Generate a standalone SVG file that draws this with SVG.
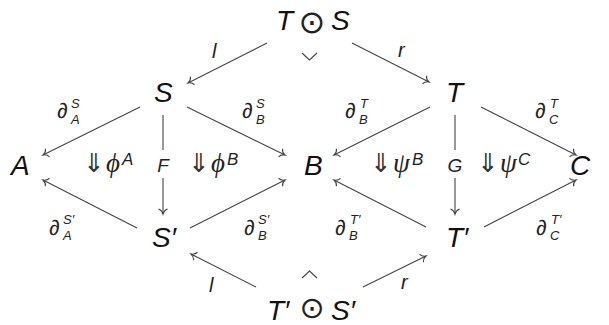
<svg xmlns="http://www.w3.org/2000/svg" width="609" height="325" viewBox="0 0 609 325">
<defs>
<style>
.n{font-family:"Liberation Sans","DejaVu Sans",sans-serif;font-style:italic;font-size:28px;fill:#111}
.op{font-family:"DejaVu Sans",sans-serif;font-style:normal;font-size:32px;fill:#222}
.op2{font-family:"DejaVu Sans",sans-serif;font-style:normal;font-size:30px;fill:#222}
.d{font-family:"Liberation Sans","DejaVu Sans",sans-serif;font-style:italic;font-size:21px;fill:#222}
.s{font-family:"Liberation Sans","DejaVu Sans",sans-serif;font-style:italic;font-size:13px;fill:#222}
.lb{font-family:"Liberation Sans","DejaVu Sans",sans-serif;font-style:italic;font-size:20px;fill:#222}
.fg{font-family:"Liberation Sans","DejaVu Sans",sans-serif;font-style:italic;font-size:19px;fill:#222;text-anchor:middle}
.dbl{font-family:"DejaVu Sans",sans-serif;font-size:26px;fill:#333}
.gr{font-family:"Liberation Serif","DejaVu Serif",serif;font-style:italic;font-size:27px;fill:#222}
.sup{font-family:"Liberation Sans","DejaVu Sans",sans-serif;font-style:italic;font-size:17px;fill:#222}
.e{stroke:#444;stroke-width:1.1;fill:none}
.a{marker-end:url(#tip)}
</style>
<marker id="tip" markerUnits="userSpaceOnUse" markerWidth="12" markerHeight="12" viewBox="-7 -6 9 12" refX="0" refY="0" orient="auto">
<path d="M -5,-4.5 C -4,-1.5 -1.5,-0.4 0,0 C -1.5,0.4 -4,1.5 -5,4.5" stroke="#444" stroke-width="1.1" fill="none"/>
</marker>
</defs>
<g id="edges">
<path class="e a" d="M267,43 L188,83"/>
<path class="e a" d="M352,43 L429,82"/>
<path class="e a" d="M140,107 L43,155"/>
<path class="e a" d="M187,107 L285,155"/>
<path class="e" d="M163,115 L163,150"/>
<path class="e a" d="M163,178 L163,214"/>
<path class="e a" d="M137,228 L43,180"/>
<path class="e a" d="M190,228 L285,180"/>
<path class="e a" d="M256,287 L191,254"/>
<path class="e a" d="M363,287 L426,256"/>
<path class="e a" d="M430,107 L334,155"/>
<path class="e a" d="M481,107 L576,155"/>
<path class="e" d="M455,115 L455,150"/>
<path class="e a" d="M455,178 L455,214"/>
<path class="e a" d="M426,227 L334,180"/>
<path class="e a" d="M484,227 L576,180"/>
<path class="e" d="M302,53 L309.5,60 L317,53"/>
<path class="e" d="M302,278 L309.5,271 L317,278"/>
<text class="lb" x="212" y="58">l</text>
<text class="lb" x="398" y="57">r</text>
<text class="lb" x="209" y="292">l</text>
<text class="lb" x="401" y="289">r</text>
<text class="fg" x="163" y="172">F</text>
<text class="fg" x="455" y="172">G</text>
<g><text class="d" x="57" y="118">∂</text><text class="s" x="71" y="108">S</text><text class="s" x="71" y="124">A</text></g>
<g><text class="d" x="242" y="118">∂</text><text class="s" x="256" y="108">S</text><text class="s" x="256" y="124">B</text></g>
<g><text class="d" x="345" y="118">∂</text><text class="s" x="360" y="108">T</text><text class="s" x="359" y="124">B</text></g>
<g><text class="d" x="535" y="118">∂</text><text class="s" x="550" y="108">T</text><text class="s" x="549" y="124">C</text></g>
<g><text class="d" x="49" y="235">∂</text><text class="s" x="63" y="224">S′</text><text class="s" x="63" y="240">A</text></g>
<g><text class="d" x="244" y="235">∂</text><text class="s" x="258" y="224">S′</text><text class="s" x="258" y="240">B</text></g>
<g><text class="d" x="335" y="235">∂</text><text class="s" x="350" y="224">T′</text><text class="s" x="349" y="240">B</text></g>
<g><text class="d" x="536" y="235">∂</text><text class="s" x="551" y="224">T′</text><text class="s" x="550" y="240">C</text></g>
<g><text class="dbl" x="83" y="172">⇓</text><text class="gr" x="106" y="172">ϕ</text><text class="sup" x="122" y="165">A</text></g>
<g><text class="dbl" x="188" y="172">⇓</text><text class="gr" x="211" y="172">ϕ</text><text class="sup" x="227" y="165">B</text></g>
<g><text class="dbl" x="370" y="172">⇓</text><text class="gr" x="393" y="172">ψ</text><text class="sup" x="412" y="165">B</text></g>
<g><text class="dbl" x="477" y="172">⇓</text><text class="gr" x="500" y="172">ψ</text><text class="sup" x="518" y="165">C</text></g>
</g>
<g id="TS"><text class="n" x="276" y="30">T</text><text class="op" x="312" y="33" text-anchor="middle">⊙</text><text class="n" x="331" y="30">S</text></g>
<g id="S"><text class="n" x="154" y="102">S</text></g>
<g id="T"><text class="n" x="446" y="102">T</text></g>
<g id="A"><text class="n" x="11" y="175">A</text></g>
<g id="B"><text class="n" x="304" y="175">B</text></g>
<g id="C"><text class="n" x="570" y="175">C</text></g>
<g id="Sp"><text class="n" x="152" y="247">S′</text></g>
<g id="Tp"><text class="n" x="446" y="247">T′</text></g>
<g id="TSp"><text class="n" x="267" y="320">T′</text><text class="op2" x="312" y="318" text-anchor="middle">⊙</text><text class="n" x="331" y="320">S′</text></g>
</svg>
